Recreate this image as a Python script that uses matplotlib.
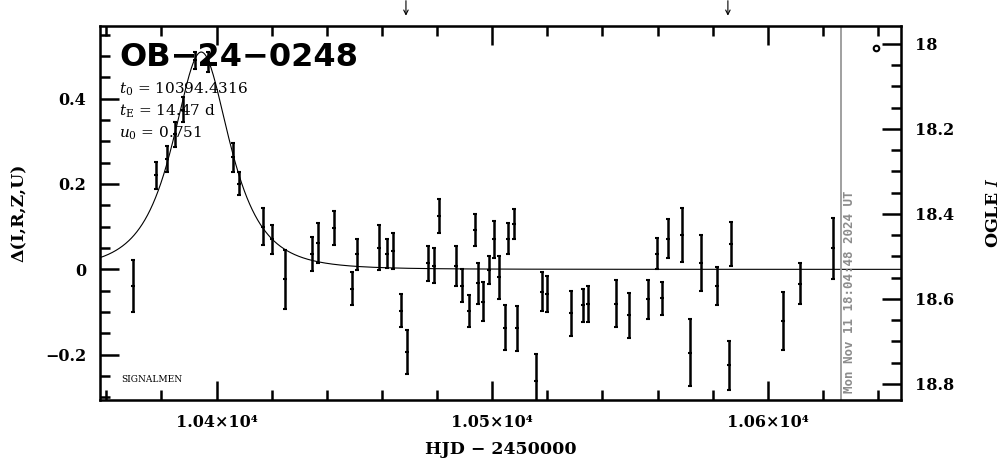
import numpy as np
import matplotlib
matplotlib.use("Agg")
import matplotlib.pyplot as plt
from matplotlib.ticker import MultipleLocator, FixedLocator, FixedFormatter

# --- event / fit parameters (as printed on the chart) ---
EVENT = "OB\u221224\u22120248"
T0 = 10394.4316
TE = 14.47
U0 = 0.751
NOW_HJD = 10626.5
NOW_TEXT = "Mon Nov 11 18:04:48 2024 UT"

# --- photometry: delta mag vs HJD-2450000 ---
hjd = [10369.7, 10377.9, 10382.0, 10384.9, 10387.9, 10392.1, 10396.8, 10406.0,
       10408.0, 10416.9, 10420.1, 10424.9, 10434.7, 10436.9, 10442.7, 10449.0,
       10451.0, 10459.0, 10461.8, 10464.0, 10467.0, 10468.9, 10476.8, 10479.0,
       10480.8, 10486.7, 10488.9, 10491.7, 10493.7, 10494.9, 10496.7, 10498.9,
       10500.7, 10502.5, 10504.7, 10505.8, 10507.9, 10508.9, 10515.9, 10517.9,
       10520.0, 10528.6, 10532.8, 10534.8, 10544.8, 10549.7, 10556.6, 10559.7,
       10561.7, 10563.6, 10568.9, 10571.7, 10575.7, 10581.5, 10585.8, 10586.7,
       10605.6, 10611.7, 10623.7]
dmag = [-0.039, 0.220, 0.259, 0.316, 0.374, 0.490, 0.485, 0.262,
        0.200, 0.100, 0.070, -0.023, 0.035, 0.062, 0.096, -0.045,
        0.035, 0.051, 0.037, 0.043, -0.097, -0.193, 0.014, 0.008,
        0.125, 0.008, -0.038, -0.097, 0.092, -0.033, -0.076, -0.002,
        0.070, -0.019, -0.137, 0.072, 0.107, -0.138, -0.261, -0.052,
        -0.058, -0.103, -0.084, -0.082, -0.080, -0.108, -0.070, 0.037,
        -0.068, 0.072, 0.080, -0.195, 0.015, -0.039, -0.225, 0.059,
        -0.121, -0.034, 0.049]
derr = [0.062, 0.032, 0.030, 0.030, 0.030, 0.020, 0.023, 0.034,
        0.027, 0.044, 0.034, 0.069, 0.040, 0.046, 0.040, 0.038,
        0.037, 0.053, 0.034, 0.042, 0.039, 0.052, 0.041, 0.041,
        0.040, 0.047, 0.038, 0.038, 0.037, 0.048, 0.046, 0.033,
        0.044, 0.051, 0.053, 0.037, 0.035, 0.053, 0.063, 0.045,
        0.042, 0.053, 0.039, 0.042, 0.054, 0.053, 0.046, 0.036,
        0.039, 0.045, 0.063, 0.078, 0.066, 0.045, 0.058, 0.051,
        0.068, 0.048, 0.072]

# single OGLE I point (right axis, magnitudes)
ogle_hjd = [10639.2]
ogle_mag = [18.01]

# arrows along the top
arrow_hjd = [10468.7, 10585.5]

XTICKS = [10400, 10500, 10600]
XTICK_LABELS = ["1.04\u00d710\u2074", "1.05\u00d710\u2074", "1.06\u00d710\u2074"]
YTICKS = [-0.2, 0, 0.2, 0.4]
YTICK_LABELS = ["\u22120.2", "0", "0.2", "0.4"]
Y2TICKS = [18.0, 18.2, 18.4, 18.6, 18.8]
Y2TICK_LABELS = ["18", "18.2", "18.4", "18.6", "18.8"]

XLIM = (10357.7, 10648.3)
YLIM = (-0.306, 0.570)
Y2LIM = (18.838, 17.958)

plt.rcParams['font.family'] = ['DejaVu Serif']
plt.rcParams['mathtext.fontset'] = 'dejavuserif'

fig = plt.figure(figsize=(10.04, 4.59), dpi=100)
ax = fig.add_axes([0.0996, 0.1285, 0.7978, 0.8149])

# Paczynski model curve from the printed fit parameters
tt = np.linspace(XLIM[0], XLIM[1], 1500)
u = np.sqrt(U0**2 + ((tt - T0) / TE)**2)
amp = (u**2 + 2) / (u * np.sqrt(u**2 + 4))
ax.plot(tt, 2.5 * np.log10(amp), color='black', lw=0.8)

ax.errorbar(hjd, dmag, yerr=derr, fmt='_', ms=3, mew=1.5, color='black',
            elinewidth=1.8, capsize=1.5, capthick=1.5, zorder=3)

ax.axvline(NOW_HJD, color='#999999', lw=1.3)
ax.text(NOW_HJD + 3.2, -0.29, NOW_TEXT, rotation=90, ha='center', va='bottom',
        color='#8c8c8c', family='DejaVu Sans Mono', fontweight='bold', fontsize=9)

ax.set_xlim(XLIM)
ax.set_ylim(YLIM)

ax.xaxis.set_major_locator(FixedLocator(XTICKS))
ax.xaxis.set_major_formatter(FixedFormatter(XTICK_LABELS))
ax.xaxis.set_minor_locator(MultipleLocator(20))
ax.yaxis.set_major_locator(FixedLocator(YTICKS))
ax.yaxis.set_major_formatter(FixedFormatter(YTICK_LABELS))
ax.yaxis.set_minor_locator(MultipleLocator(0.05))
ax.tick_params(which='both', direction='in', top=True, right=False, width=1.8,
               labelsize=11.5)
ax.tick_params(which='major', length=14, pad=10)
ax.tick_params(which='minor', length=7)
for lab in ax.get_xticklabels() + ax.get_yticklabels():
    lab.set_fontweight('bold')
for s in ax.spines.values():
    s.set_linewidth(1.8)

ax.set_xlabel("HJD \u2212 2450000", fontsize=12.5, fontweight='bold', labelpad=7)
ax.set_ylabel("\u0394(I,R,Z,U)", fontsize=12.5, fontweight='bold', labelpad=12)

# right axis: OGLE I magnitude
ax2 = ax.twinx()
ax2.set_ylim(Y2LIM)
ax2.plot(ogle_hjd, ogle_mag, 'o', ms=4, mfc='white', mec='black', mew=1.5)
ax2.yaxis.set_major_locator(FixedLocator(Y2TICKS))
ax2.yaxis.set_major_formatter(FixedFormatter(Y2TICK_LABELS))
ax2.yaxis.set_minor_locator(MultipleLocator(0.05))
ax2.tick_params(which='both', direction='in', width=1.8, labelsize=11.5)
ax2.tick_params(which='major', length=14, pad=10)
ax2.tick_params(which='minor', length=7)
for lab in ax2.get_yticklabels():
    lab.set_fontweight('bold')
ax2.set_ylabel("OGLE $\\mathit{I}$", fontsize=12.5, fontweight='bold', labelpad=22)

# annotations
ax.text(0.024, 0.958, EVENT, transform=ax.transAxes, fontsize=23,
        family='DejaVu Sans', fontweight='bold', va='top', ha='left')
params = [r"$t_0$ = %.4f" % T0, r"$t_{\rm E}$ = %.2f d" % TE, r"$u_0$ = %.3f" % U0]
for i, s in enumerate(params):
    ax.text(0.024, 0.83 - i * 0.058, s, transform=ax.transAxes, fontsize=11,
            va='center', ha='left')
ax.text(0.026, 0.055, "SIGNALMEN", transform=ax.transAxes, fontsize=6.5,
        va='center', ha='left')

for t in arrow_hjd:
    ax.annotate("", xy=(t, 1.02), xycoords=('data', 'axes fraction'),
                xytext=(t, 1.075), textcoords=('data', 'axes fraction'),
                arrowprops=dict(arrowstyle='->', lw=0.8, color='black',
                                mutation_scale=8),
                annotation_clip=False)

fig.savefig("out.png", dpi=100)
